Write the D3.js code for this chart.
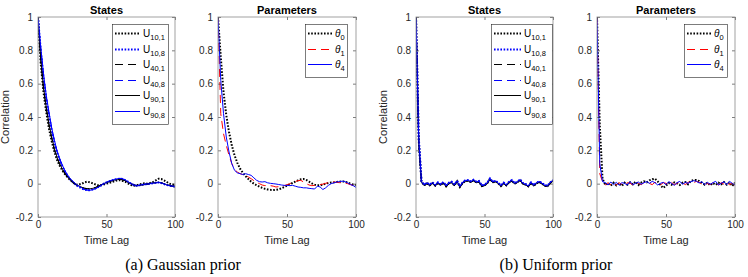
<!DOCTYPE html>
<html>
<head>
<meta charset="utf-8">
<script src="https://cdn.jsdelivr.net/npm/d3@7"></script>
<style>
  body { margin: 0; background: #fff; }
  svg { display: block; }
  text { font-family: "Liberation Sans", Arial, sans-serif; fill: #262626; }
  text.caption { font-family: "Liberation Serif", "DejaVu Serif", serif; fill: #000; }
</style>
</head>
<body>
<svg id="chart" width="748" height="277"></svg>
<script>
// lags sampled every 2 steps
const lags = d3.range(0, 101, 2);
const yTicks = [-0.2, 0, 0.2, 0.4, 0.6, 0.8, 1];
const xTicks = [0, 50, 100];

// (a) Gaussian prior - states
const gU10_1 = [1,0.72,0.55,0.43,0.33,0.255,0.19,0.14,0.105,0.077,0.053,0.034,0.019,0.005,-0.005,-0.005,0,0.008,0.012,0.008,0.002,-0.005,-0.01,-0.01,-0.005,0,0.005,0.01,0.015,0.02,0.02,0.015,0.01,0,-0.008,-0.012,-0.01,-0.005,0,0.002,0,0.005,0.01,0.02,0.03,0.028,0.02,0.01,0,-0.005,-0.008];
const gU10_8 = [1,0.8,0.64,0.51,0.41,0.32,0.245,0.185,0.14,0.1,0.068,0.042,0.021,0.005,-0.01,-0.02,-0.03,-0.035,-0.04,-0.04,-0.035,-0.028,-0.02,-0.01,0,0.008,0.014,0.02,0.025,0.028,0.03,0.027,0.02,0.01,0,-0.008,-0.012,-0.01,-0.007,-0.004,-0.002,0,0.003,0.005,0.007,0.004,-0.002,-0.008,-0.012,-0.015,-0.018];
const gU40_1 = [1,0.74,0.57,0.45,0.35,0.27,0.2,0.15,0.112,0.08,0.055,0.034,0.017,0.004,-0.008,-0.016,-0.022,-0.028,-0.03,-0.03,-0.027,-0.022,-0.015,-0.007,0,0.007,0.012,0.017,0.021,0.024,0.025,0.022,0.016,0.008,0,-0.007,-0.012,-0.012,-0.009,-0.005,-0.002,0.001,0.004,0.006,0.008,0.006,0,-0.006,-0.01,-0.013,-0.015];
const gU40_8 = [1,0.81,0.65,0.52,0.42,0.33,0.25,0.19,0.142,0.103,0.07,0.044,0.023,0.008,-0.006,-0.018,-0.028,-0.035,-0.039,-0.04,-0.036,-0.03,-0.021,-0.011,-0.001,0.007,0.014,0.02,0.025,0.029,0.031,0.028,0.02,0.01,0,-0.008,-0.013,-0.011,-0.007,-0.004,-0.002,0.001,0.003,0.005,0.007,0.004,-0.002,-0.008,-0.012,-0.015,-0.018];
const gU90_1 = [1,0.75,0.58,0.46,0.36,0.28,0.21,0.158,0.117,0.085,0.058,0.037,0.019,0.006,-0.006,-0.015,-0.022,-0.027,-0.03,-0.031,-0.028,-0.023,-0.016,-0.008,0,0.007,0.013,0.018,0.022,0.025,0.026,0.023,0.016,0.008,-0.001,-0.008,-0.012,-0.011,-0.008,-0.005,-0.002,0.001,0.004,0.006,0.008,0.005,-0.001,-0.007,-0.011,-0.016,-0.02];
const gU90_8 = [1,0.82,0.66,0.53,0.43,0.335,0.26,0.195,0.147,0.107,0.073,0.047,0.026,0.01,-0.005,-0.015,-0.025,-0.035,-0.038,-0.04,-0.035,-0.03,-0.02,-0.01,0,0.008,0.015,0.02,0.025,0.03,0.032,0.028,0.02,0.01,0,-0.008,-0.012,-0.01,-0.006,-0.004,-0.002,0,0.003,0.005,0.008,0.005,-0.002,-0.008,-0.012,-0.015,-0.018];

// (a) Gaussian prior - parameters
const gT0 = [1,0.76,0.55,0.41,0.31,0.23,0.17,0.125,0.09,0.065,0.045,0.028,0.012,0,-0.01,-0.018,-0.025,-0.031,-0.035,-0.037,-0.038,-0.037,-0.034,-0.028,-0.02,-0.012,-0.004,0.004,0.012,0.02,0.026,0.028,0.022,0.012,0.002,-0.006,-0.01,-0.01,-0.006,0,0.004,0.007,0.008,0.01,0.012,0.014,0.012,0.006,0,-0.006,-0.008];
const gT1 = [1,0.42,0.3,0.23,0.17,0.12,0.085,0.07,0.06,0.055,0.05,0.04,0.03,0.018,0.008,0,-0.008,-0.012,-0.01,-0.012,-0.015,-0.02,-0.018,-0.015,-0.012,-0.006,0,0.006,0.012,0.018,0.02,0.01,0,-0.008,-0.012,-0.01,-0.008,-0.005,-0.003,0.002,0.006,0.008,0.01,0.008,0.006,0.005,0.004,0,-0.006,-0.01,-0.012];
const gT4 = [1,0.62,0.42,0.28,0.19,0.12,0.08,0.065,0.06,0.055,0.06,0.055,0.05,0.035,0.02,0.012,0.01,0.012,0.005,0.002,0,-0.002,-0.005,-0.008,-0.01,-0.01,-0.012,-0.01,-0.015,-0.02,-0.022,-0.025,-0.025,-0.028,-0.03,-0.032,-0.015,-0.02,-0.035,-0.025,-0.01,0,0.005,0.01,0.012,0.015,0.012,0.005,-0.005,-0.012,-0.022];

// (b) Uniform prior - states
const uU10_1 = [1,0.26,0.01,-0.01,0.002,-0.01,0.004,-0.012,0.004,-0.008,0.006,-0.016,0.002,0.008,-0.01,0.014,-0.02,0.004,0.016,0.018,0.01,0.02,0.008,0.012,-0.014,-0.01,0.002,0.028,0.008,0.014,0.002,-0.014,0.002,-0.01,0.008,0.018,0,0.008,0.022,0,-0.006,-0.016,0.004,-0.012,0.002,0.01,0,-0.012,-0.016,0.004,0.018];
const uU10_8 = [1,0.28,0.014,-0.006,0.006,-0.006,0.008,-0.008,0.008,-0.004,0.01,-0.012,0.006,0.012,-0.006,0.018,-0.016,0.008,0.02,0.022,0.014,0.024,0.012,0.016,-0.01,-0.006,0.006,0.032,0.012,0.018,0.006,-0.01,0.006,-0.006,0.012,0.022,0.004,0.012,0.026,0.004,-0.002,-0.012,0.008,-0.008,0.006,0.014,0.004,-0.008,-0.012,0.008,0.022];
const uU40_1 = [1,0.25,0.009,-0.011,0.001,-0.011,0.003,-0.013,0.003,-0.009,0.005,-0.017,0.001,0.007,-0.011,0.013,-0.021,0.003,0.015,0.017,0.009,0.019,0.007,0.011,-0.015,-0.011,0.001,0.027,0.007,0.013,0.001,-0.015,0.001,-0.011,0.007,0.017,-0.001,0.007,0.021,-0.001,-0.007,-0.017,0.003,-0.013,0.001,0.009,-0.001,-0.013,-0.017,0.003,0.017];
const uU40_8 = [1,0.27,0.012,-0.008,0.004,-0.008,0.006,-0.01,0.006,-0.006,0.008,-0.014,0.004,0.01,-0.008,0.016,-0.018,0.006,0.018,0.02,0.012,0.022,0.01,0.014,-0.012,-0.008,0.004,0.03,0.01,0.016,0.004,-0.012,0.004,-0.008,0.01,0.02,0.002,0.01,0.024,0.002,-0.004,-0.014,0.006,-0.01,0.004,0.012,0.002,-0.01,-0.014,0.006,0.02];
const uU90_1 = [1,0.24,0.008,-0.012,0,-0.012,0.002,-0.014,0.002,-0.01,0.004,-0.018,0,0.006,-0.012,0.012,-0.022,0.002,0.014,0.016,0.008,0.018,0.006,0.01,-0.016,-0.012,0,0.026,0.006,0.012,0,-0.016,0,-0.012,0.006,0.016,-0.002,0.006,0.02,-0.002,-0.008,-0.018,0.002,-0.014,0,0.008,-0.002,-0.014,-0.018,0.002,0.016];
const uU90_8 = [1,0.27,0.012,-0.008,0.004,-0.008,0.006,-0.01,0.006,-0.006,0.008,-0.014,0.004,0.01,-0.008,0.016,-0.018,0.006,0.018,0.02,0.012,0.022,0.01,0.014,-0.012,-0.008,0.004,0.03,0.01,0.016,0.004,-0.012,0.004,-0.008,0.01,0.02,0.002,0.01,0.024,0.002,-0.004,-0.014,0.006,-0.01,0.004,0.012,0.002,-0.01,-0.014,0.006,0.02];

// (b) Uniform prior - parameters
const uT0 = [1,0.35,0.03,-0.008,0.004,-0.012,0.006,-0.01,0.004,-0.014,0.006,-0.006,0.008,-0.004,0.012,-0.008,0.006,0.014,0.008,0.02,0.026,0.03,0.014,-0.01,-0.026,-0.012,0.004,-0.006,0.008,0.002,-0.008,0.006,0.01,-0.004,0.016,0.022,0.022,0.016,0.006,-0.006,0.006,-0.01,0.004,-0.008,0.006,-0.004,0.01,-0.006,0.008,-0.014,0.006];
const uT1 = [1,0.06,0.012,-0.008,0.006,-0.006,0.004,-0.008,0.006,-0.004,-0.008,0.006,0.002,-0.006,0.008,0.002,-0.006,0.006,0.01,0.002,-0.006,0.008,0.002,-0.008,0.006,0.002,-0.004,0.008,-0.006,0.002,0.01,0.006,-0.006,0.008,0.012,0.006,0.014,0.008,-0.004,-0.008,0.002,-0.006,0.006,0.002,-0.008,0.006,-0.004,0.008,-0.006,0.002,-0.014];
const uT4 = [1,0.12,0.012,0.006,-0.008,0.01,-0.006,0.008,-0.01,0.006,0.002,-0.008,0.012,-0.006,0.002,0.01,-0.004,0.006,0.012,0.002,0.014,0.006,-0.008,0.002,0.008,-0.006,0.012,0.002,-0.01,0.006,0.014,-0.004,0.008,0.002,0.012,0.018,0.014,0.004,0.012,-0.006,0.008,-0.004,0.006,0.014,-0.008,0.002,0.012,-0.006,0.014,0.002,-0.008];

const BLUE = '#0000ff', RED = '#ff0000', BLACK = '#000000';
const DOT = '1.6,1.6', DASH = '8,5';

const stateSeries = (d) => [
  { base: 'U', sub: '10,1', values: d[0], color: BLACK, dash: DOT, w: 2 },
  { base: 'U', sub: '10,8', values: d[1], color: BLUE, dash: DOT, w: 2 },
  { base: 'U', sub: '40,1', values: d[2], color: BLACK, dash: DASH, w: 1 },
  { base: 'U', sub: '40,8', values: d[3], color: BLUE, dash: DASH, w: 1 },
  { base: 'U', sub: '90,1', values: d[4], color: BLACK, dash: null, w: 1 },
  { base: 'U', sub: '90,8', values: d[5], color: BLUE, dash: null, w: 1 }
];
const paramSeries = (d) => [
  { base: '\u03b8', sub: '0', values: d[0], color: BLACK, dash: DOT, w: 2, italic: true },
  { base: '\u03b8', sub: '1', values: d[1], color: RED, dash: DASH, w: 1, italic: true },
  { base: '\u03b8', sub: '4', values: d[2], color: BLUE, dash: null, w: 1, italic: true }
];

const panels = [
  { x0: 38, x1: 175, title: 'States', ylab: true, series: stateSeries([gU10_1, gU10_8, gU40_1, gU40_8, gU90_1, gU90_8]),
    leg: { x: 112, y: 24, w: 56, sample: 25 } },
  { x0: 218, x1: 356, title: 'Parameters', ylab: false, series: paramSeries([gT0, gT1, gT4]),
    leg: { x: 305, y: 24, w: 42, sample: 24 } },
  { x0: 416, x1: 553, title: 'States', ylab: true, series: stateSeries([uU10_1, uU10_8, uU40_1, uU40_8, uU90_1, uU90_8]),
    leg: { x: 491, y: 24, w: 61, sample: 27 } },
  { x0: 597, x1: 735, title: 'Parameters', ylab: false, series: paramSeries([uT0, uT1, uT4]),
    leg: { x: 684, y: 24, w: 43, sample: 24 } }
];

const yTop = 17, yBot = 217;
const svg = d3.select('#chart');
const fmt = d => d === 0 ? '0' : String(+d.toFixed(1));

panels.forEach(p => {
  const x = d3.scaleLinear().domain([0, 100]).range([p.x0, p.x1]);
  const y = d3.scaleLinear().domain([-0.2, 1]).range([yBot, yTop]);
  const g = svg.append('g');

  // lines
  const clipId = 'clip' + p.x0;
  g.append('clipPath').attr('id', clipId).append('rect')
    .attr('x', p.x0).attr('y', yTop).attr('width', p.x1 - p.x0).attr('height', yBot - yTop);
  const line = d3.line().x((d, i) => x(lags[i])).y(d => y(d));
  const lg = g.append('g').attr('clip-path', `url(#${clipId})`);
  p.series.forEach(s => {
    lg.append('path').attr('d', line(s.values))
      .attr('fill', 'none').attr('stroke', s.color).attr('stroke-width', s.w)
      .attr('stroke-dasharray', s.dash);
  });

  // axes, MATLAB-like inward ticks on all four sides
  const axStyle = sel => {
    sel.selectAll('path.domain').remove();
    sel.selectAll('line').attr('stroke', '#262626').attr('stroke-width', 0.6);
    sel.selectAll('text').attr('font-size', 10);
  };
  g.append('g').attr('transform', `translate(${p.x0},0)`)
    .call(d3.axisLeft(y).tickValues(yTicks).tickFormat(fmt).tickSize(-3).tickPadding(5)).call(axStyle);
  g.append('g').attr('transform', `translate(${p.x1},0)`)
    .call(d3.axisRight(y).tickValues(yTicks).tickFormat('').tickSize(-3)).call(axStyle);
  g.append('g').attr('transform', `translate(0,${yBot})`)
    .call(d3.axisBottom(x).tickValues(xTicks).tickFormat(d3.format('d')).tickSize(-3).tickPadding(4)).call(axStyle);
  g.append('g').attr('transform', `translate(0,${yTop})`)
    .call(d3.axisTop(x).tickValues(xTicks).tickFormat('').tickSize(-3)).call(axStyle);

  g.append('rect').attr('x', p.x0).attr('y', yTop).attr('width', p.x1 - p.x0).attr('height', yBot - yTop)
    .attr('fill', 'none').attr('stroke', '#8a8a8a').attr('stroke-width', 0.8);

  g.append('text').attr('x', (p.x0 + p.x1) / 2).attr('y', 14).attr('text-anchor', 'middle')
    .attr('font-size', 11).attr('font-weight', 'bold').style('fill', '#000').text(p.title);
  g.append('text').attr('x', (p.x0 + p.x1) / 2).attr('y', 244).attr('text-anchor', 'middle')
    .attr('font-size', 11).text('Time Lag');
  if (p.ylab) {
    g.append('text').attr('transform', `translate(${p.x0 - 29},${(yTop + yBot) / 2}) rotate(-90)`)
      .attr('text-anchor', 'middle').attr('font-size', 11).text('Correlation');
  }

  // legend
  const L = p.leg, rowH = 15.5, n = p.series.length;
  const leg = g.append('g');
  leg.append('rect').attr('x', L.x + 0.5).attr('y', L.y + 0.5).attr('width', L.w).attr('height', Math.round(n * rowH + 0.5 * rowH - 1))
    .attr('fill', '#fff').attr('stroke', '#262626').attr('stroke-width', 0.6);
  p.series.forEach((s, i) => {
    const cy = Math.round(L.y + 9 + i * rowH) + 0.5;
    leg.append('line').attr('x1', L.x + 3).attr('x2', L.x + 3 + L.sample).attr('y1', cy).attr('y2', cy)
      .attr('stroke', s.color).attr('stroke-width', s.w).attr('stroke-dasharray', s.dash);
    const t = leg.append('text').attr('x', L.x + 6 + L.sample).attr('y', cy + 3).attr('font-size', 10).style('fill', '#000');
    t.append('tspan').attr('font-style', s.italic ? 'italic' : null).text(s.base);
    t.append('tspan').attr('font-size', 7.5).attr('dy', 3).text(s.sub);
  });
});

// captions
svg.append('text').attr('class', 'caption').attr('x', 183).attr('y', 270).attr('text-anchor', 'middle')
  .attr('font-size', 16).text('(a) Gaussian prior');
svg.append('text').attr('class', 'caption').attr('x', 556).attr('y', 270).attr('text-anchor', 'middle')
  .attr('font-size', 16).text('(b) Uniform prior');
</script>
</body>
</html>
